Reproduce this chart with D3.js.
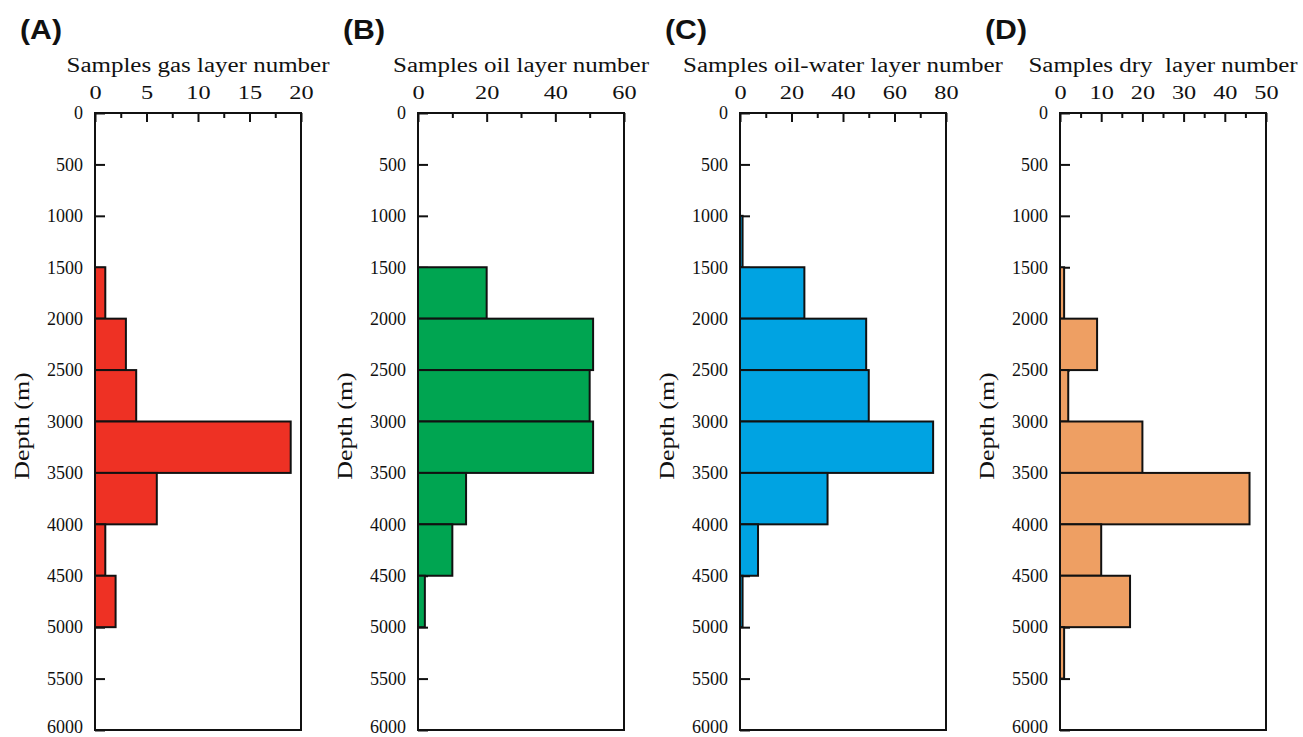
<!DOCTYPE html>
<html>
<head>
<meta charset="utf-8">
<script src="https://d3js.org/d3.v7.min.js"></script>
<style>
  body { margin: 0; background: #fff; }
</style>
</head>
<body>
<div id="chart"></div>
<script>
// depth bins (m), each 500 m thick, bin start values
const binStarts = [0, 500, 1000, 1500, 2000, 2500, 3000, 3500, 4000, 4500, 5000, 5500];
const depthTicks = [0, 500, 1000, 1500, 2000, 2500, 3000, 3500, 4000, 4500, 5000, 5500, 6000];

// sample counts per bin
const gasCounts      = [0, 0, 0, 1, 3, 4, 19, 6, 1, 2, 0, 0];
const oilCounts      = [0, 0, 0, 20, 51, 50, 51, 14, 10, 2, 0, 0];
const oilWaterCounts = [0, 0, 1, 25, 49, 50, 75, 34, 7, 1, 0, 0];
const dryCounts      = [0, 0, 0, 1, 9, 2, 20, 46, 10, 17, 1, 0];

// top axis ticks
const gasTicks      = [0, 5, 10, 15, 20];
const oilTicks      = [0, 20, 40, 60];
const oilWaterTicks = [0, 20, 40, 60, 80];
const dryTicks      = [0, 10, 20, 30, 40, 50];

const panelLabels = ["(A)", "(B)", "(C)", "(D)"];
const panelTitles = ["Samples gas layer number", "Samples oil layer number",
                     "Samples oil-water layer number", "Samples dry  layer number"];

const panels = [
  { label: panelLabels[0], title: panelTitles[0], counts: gasCounts, ticks: gasTicks, left: 95, color: "#ee3124" },
  { label: panelLabels[1], title: panelTitles[1], counts: oilCounts, ticks: oilTicks, left: 418, color: "#00a551" },
  { label: panelLabels[2], title: panelTitles[2], counts: oilWaterCounts, ticks: oilWaterTicks, left: 740, color: "#00a3e2" },
  { label: panelLabels[3], title: panelTitles[3], counts: dryCounts, ticks: dryTicks, left: 1060, color: "#ee9f63" }
];

const W = 1303, H = 737;
const plotW = 206, plotTop = 113, plotBottom = 730;
const serif = "'Liberation Serif'";

const svg = d3.select("#chart").append("svg")
  .attr("width", W)
  .attr("height", H);

const y = d3.scaleLinear().domain([0, 6000]).range([plotTop, plotBottom]);

panels.forEach(p => {
  const xMax = p.ticks[p.ticks.length - 1];
  const x = d3.scaleLinear().domain([0, xMax]).range([p.left, p.left + plotW]);
  const step = p.ticks[1] - p.ticks[0];
  const minor = p.ticks.slice(0, -1).map(t => t + step / 2);

  const g = svg.append("g");

  // panel letter
  g.append("text")
    .attr("transform", "translate(" + (p.left - 75) + ",39) scale(1.12,1)")
    .style("font-family", "'Liberation Sans'")
    .style("font-weight", "bold")
    .style("font-size", "27px")
    .style("fill", "#111")
    .text(p.label);

  // x title
  g.append("text")
    .attr("transform", "translate(" + (p.left + plotW / 2) + ",72) scale(1.25,1)")
    .attr("text-anchor", "middle")
    .style("font-family", serif)
    .style("font-size", "20px")
    .style("fill", "#111")
    .style("white-space", "pre")
    .text(p.title);

  // y title
  g.append("text")
    .attr("transform", "translate(" + (p.left - 66) + ",426) rotate(-90) scale(1.3,1)")
    .attr("text-anchor", "middle")
    .style("font-family", serif)
    .style("font-size", "20px")
    .style("fill", "#111")
    .text("Depth (m)");

  // minor top ticks
  g.append("g")
    .attr("transform", "translate(0," + plotTop + ")")
    .call(d3.axisTop(x).tickValues(minor).tickSize(-5).tickFormat(""))
    .call(a => a.select(".domain").remove())
    .call(a => a.selectAll("line").attr("stroke", "#111").attr("stroke-width", 2));

  // major top ticks
  g.append("g")
    .attr("transform", "translate(0," + plotTop + ")")
    .call(d3.axisTop(x).tickValues(p.ticks).tickSize(-9).tickPadding(14))
    .call(a => a.select(".domain").remove())
    .call(a => a.selectAll("line").attr("stroke", "#111").attr("stroke-width", 2))
    .call(a => a.selectAll("text")
      .attr("transform", "scale(1.35,1)")
      .style("font-family", serif)
      .style("font-size", "18px")
      .style("fill", "#111"));

  // left depth axis
  g.append("g")
    .attr("transform", "translate(" + p.left + ",0)")
    .call(d3.axisLeft(y).tickValues(depthTicks).tickSize(-10).tickPadding(12).tickFormat(d3.format("d")))
    .call(a => a.select(".domain").remove())
    .call(a => a.selectAll("line").attr("stroke", "#111").attr("stroke-width", 2))
    .call(a => a.selectAll("text")
      .style("font-family", serif)
      .style("font-size", "18px")
      .style("fill", "#111")
      .attr("dy", d => d === 6000 ? "0.12em" : "0.32em"));

  // bars
  g.selectAll("rect.bar")
    .data(binStarts.map((d, i) => ({ start: d, count: p.counts[i] })).filter(d => d.count > 0))
    .enter()
    .append("rect")
    .attr("class", "bar")
    .attr("x", x(0))
    .attr("y", d => y(d.start))
    .attr("width", d => x(d.count) - x(0))
    .attr("height", d => y(d.start + 500) - y(d.start))
    .attr("fill", p.color)
    .attr("stroke", "#111")
    .attr("stroke-width", 2);

  // frame
  g.append("rect")
    .attr("x", x(0))
    .attr("y", y(0))
    .attr("width", x(xMax) - x(0))
    .attr("height", y(6000) - y(0))
    .attr("fill", "none")
    .attr("stroke", "#111")
    .attr("stroke-width", 2);
});
</script>
</body>
</html>
